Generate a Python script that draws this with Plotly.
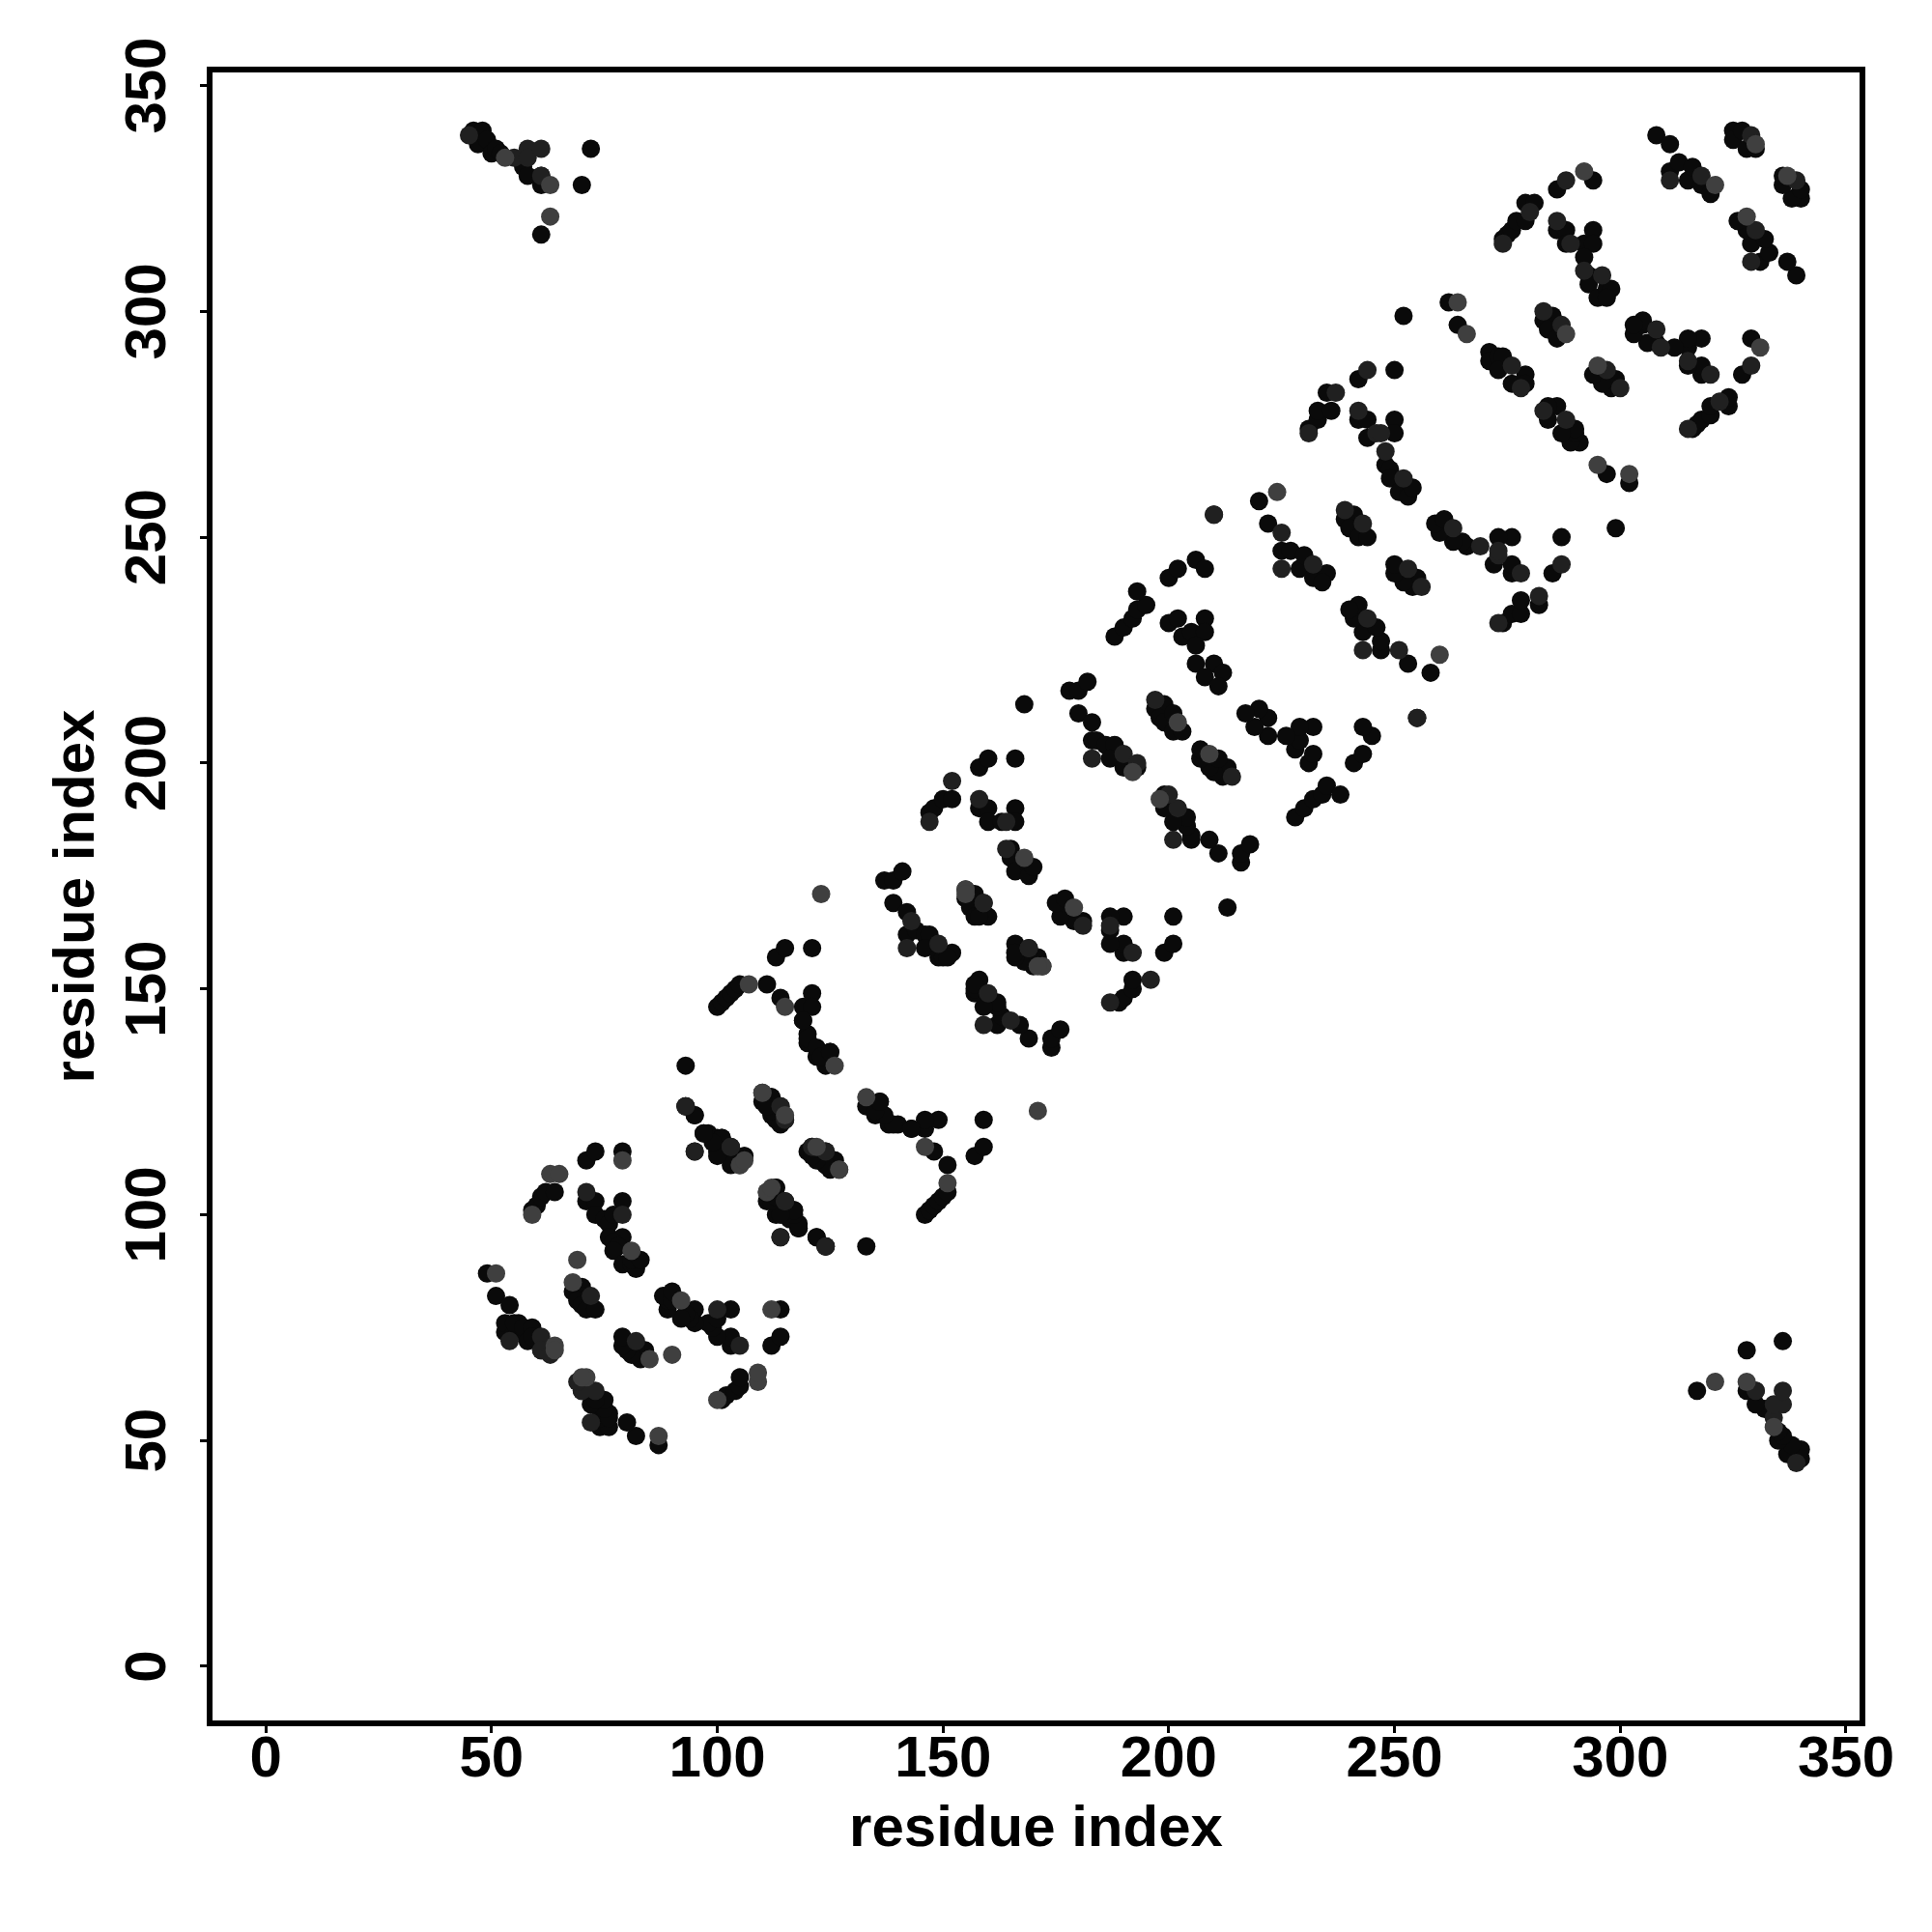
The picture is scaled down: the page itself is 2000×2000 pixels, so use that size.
import plotly.graph_objects as go

# Contact pairs (residue i, residue j), j > i; the map is symmetric. Grouped by grey level.
dark_i = [46,48,47,49,50,51,52,57,58,61,61,70,72,61,
 49,51,54,53,53,55,56,55,57,59,58,59,61,62,
 68,70,70,69,70,71,73,
 71,73,73,75,76,77,79,76,79,77,78,77,79,81,82,81,83,71,73,79,
 59,60,61,62,64,
 93,95,97,98,100,101,100,103,104,106,
 110,112,111,112,113,115,
 120,123,124,126,124,
 113,111,113,117,116,118,122,124,133,
 119,120,120,122,125,124,
 100,101,102,103,104,105,111,114,119,121,121,119,120,122,123,125,113,115,121,
 147,148,150,152,158,160,166,
 158,160,160,163,166,166,165,165,166,169,169,170,
 137,139,141,
 139,142,142,144,146,147,146,149,150,152,151,
 155,157,156,157,160,158,
 168,178,180,182,180,183,183,184,186,188,187,190,193,
 197,199,198,199,201,201,203,
 188,190,192,193,195,193,
 200,202,203,205,208,208,206,206,210,208,212,211,200,202,206,208,210,
 231,233,233,236,235,
 242,244,244,250,250,248,249,249,251,253,254,
 222,225,227,229,230,232,235,234,
 239,241,240,242,244,
 220,
 242,250,252,
 271,271,273,274,273,276,279,279,
 308,311,311,313,315,316,318,320,
 325,325,327,328,330,
 274,275,276,277,279,279,281,286,294,
 286,288,288,292,294,294,292,293,293,295,297,298,297,
 283,285,284,286,
 262,264]
dark_j = [340,340,337,338,335,336,335,332,330,330,328,328,336,317,
 87,82,80,74,76,74,76,76,75,75,72,73,70,71,
 83,84,82,81,80,79,79,
 103,103,100,99,98,100,103,95,95,94,93,92,89,89,88,90,90,112,114,114,
 101,102,104,105,105,
 124,122,118,118,117,117,114,112,113,113,
 125,126,124,122,121,121,
 114,112,114,112,111,
 106,103,100,101,99,97,95,93,93,
 143,140,138,135,136,133,
 146,147,148,149,150,151,151,148,146,149,146,143,139,137,135,136,157,159,159,
 189,190,192,192,199,201,201,
 190,190,187,187,190,187,181,179,176,177,175,177,
 174,174,176,
 169,167,162,163,162,162,159,157,157,158,157,
 170,171,168,166,166,166,
 213,216,216,218,211,209,205,205,204,204,201,199,199,
 212,213,210,209,211,207,207,
 228,230,232,234,235,238,
 231,232,228,229,232,229,226,222,222,219,220,217,241,243,245,243,255,
 274,276,278,278,282,
 276,276,272,276,273,266,265,263,260,259,261,
 253,247,247,243,246,241,242,240,
 254,255,252,250,250,
 258,
 285,287,299,
 291,289,290,290,287,284,286,284,
 339,337,331,333,329,332,328,326,
 340,338,340,336,336,
 316,317,318,320,320,324,324,327,329,
 318,318,315,315,318,315,312,308,306,303,305,305,303,
 298,299,296,294,
 302,297]
mid_i = [45,55,58,58,61,61,
 54,61,61,63,
 72,
 71,79,
 93,95,103,
 110,114,
 121,
 111,115,114,
 147,152,158,164,164,
 143,142,149,
 155,159,
 169,
 183,190,193,
 197,
 231,237,
 242,246,247,248,
 225,225,232,
 239,243,
 210,
 276,278,
 311,318,
 329,
 274,280,289,288,292,296,
 283,287,
 286,244,252]
mid_j = [339,334,336,334,336,330,
 72,73,70,69,
 82,
 105,100,
 124,114,115,
 127,124,
 115,
 105,103,95,
 187,196,192,187,181,
 165,159,160,
 172,169,
 159,
 201,202,200,
 214,
 273,282,
 278,273,273,269,
 251,243,244,
 256,253,
 255,
 288,283,
 329,330,
 339,
 315,322,315,329,309,308,
 300,297,
 320,287,263]
light_i = [53,63,63,
 51,64,64,
 68,69,
 81,
 79,
 59,63,65,
 105,106,
 115,
 127,
 126,
 107,115,123,
 172,168,
 192,
 202,
 171,
 224,
 321,
 330,
 292,
 288,
 264,266]
light_j = [334,328,321,
 87,71,70,
 85,90,
 92,
 112,
 100,109,109,
 111,112,
 122,
 110,
 133,
 151,146,171,
 155,179,
 198,
 209,
 155,
 260,
 328,
 337,
 331,
 295,
 302,295]
tick_values = [0, 50, 100, 150, 200, 250, 300, 350]
axis_label = "residue index"

fig = go.Figure()
for xs, ys, col in [(dark_i, dark_j, "#0a0a0a"), (mid_i, mid_j, "#202020"), (light_i, light_j, "#3f3f3f")]:
    fig.add_trace(go.Scatter(x=xs + ys, y=ys + xs, mode="markers",
                             marker=dict(size=19, color=col, line=dict(width=0)),
                             showlegend=False, hoverinfo="skip"))

bold = dict(family="Liberation Sans", size=60, color="black", weight="bold")
axis = dict(tickmode="array", tickvals=tick_values, ticks="outside", ticklen=7, tickwidth=3,
            tickcolor="black", showline=True, linewidth=5.5, linecolor="black", mirror=True,
            showgrid=False, zeroline=False, tickfont=bold)
fig.update_layout(width=2000, height=2000, autosize=False, plot_bgcolor="white", paper_bgcolor="white",
                  margin=dict(l=211.5, r=82.7, t=66.7, b=227, autoexpand=False))
fig.update_xaxes(range=[-11.8, 353.0], ticklabelstandoff=-27,
                 title=dict(text=axis_label, font=bold, standoff=20), **axis)
fig.update_yaxes(range=[-11.98, 352.9], tickangle=-90, ticklabelstandoff=12, ticklabelshift=9,
                 title=dict(text=axis_label, font=bold, standoff=2), **axis)
fig.write_html("out.html")
